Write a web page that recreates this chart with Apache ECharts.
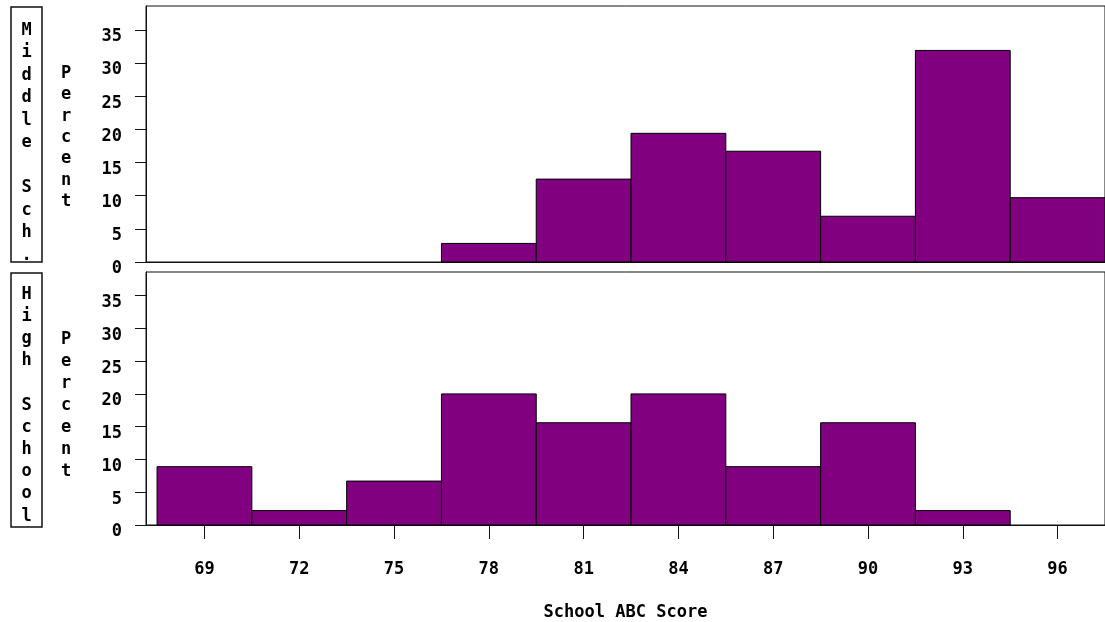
<!DOCTYPE html>
<html>
<head>
<meta charset="utf-8">
<script src="https://cdn.jsdelivr.net/npm/echarts@6/dist/echarts.min.js"></script>
<style>
  html, body { margin: 0; padding: 0; background: #fff; }
  #chart { width: 1105px; height: 622px; }
</style>
</head>
<body>
<div id="chart"></div>
<script>
// bin midpoints (School ABC Score) and percent per bin
const scoreMids = [69, 72, 75, 78, 81, 84, 87, 90, 93, 96];
const middleSchPct = [0, 0, 0, 2.8, 12.5, 19.4, 16.7, 6.9, 31.9, 9.7];
const highSchoolPct = [8.9, 2.2, 6.7, 20, 15.6, 20, 8.9, 15.6, 2.2, 0];
const yTicks = [0, 5, 10, 15, 20, 25, 30, 35];
const binWidth = 3;

const font = 'DejaVu Sans Mono';
const ink = '#111';

let myChart = echarts.init(document.getElementById('chart'));

function toPairs (vals) {
  return scoreMids.map((m, i) => [m, vals[i]]);
}

// draws each histogram bin as a rectangle through the axis scales
function renderBin (params, api) {
  const x = api.value(0);
  const y = api.value(1);
  if (!y) return null;
  const p0 = api.coord([x - binWidth / 2, y]);
  const p1 = api.coord([x + binWidth / 2, 0]);
  return {
    type: 'rect',
    shape: { x: p0[0], y: p0[1], width: p1[0] - p0[0], height: p1[1] - p0[1] },
    style: { fill: '#800080', stroke: '#000', lineWidth: 1 }
  };
}

const xCommon = {
  type: 'value',
  min: 67.15,
  max: 97.5,
  splitLine: { show: false },
  axisLine: { show: true, lineStyle: { color: ink, width: 1 } }
};

const yCommon = {
  type: 'value',
  min: 0,
  max: 38.6,
  splitLine: { show: false },
  axisLine: { show: true, lineStyle: { color: ink, width: 1 } },
  axisTick: { show: true, length: 11, customValues: yTicks, lineStyle: { color: ink } },
  axisLabel: {
    customValues: yTicks,
    margin: 24,
    // labels sit a little below their ticks
    verticalAlign: 'top',
    lineHeight: 14,
    color: '#000',
    fontFamily: font,
    fontWeight: 'bold',
    fontSize: 17
  }
};

function stack (word) {
  return word.split('').join('\n');
}

let option = {
  animation: false,
  grid: [
    { left: 146, top: 6, right: -1, height: 256, show: true, borderColor: ink, borderWidth: 1 },
    { left: 146, top: 272, right: -1, height: 255, show: true, borderColor: ink, borderWidth: 1 }
  ],
  xAxis: [
    Object.assign({}, xCommon, {
      gridIndex: 0,
      axisTick: { show: false },
      axisLabel: { show: false }
    }),
    Object.assign({}, xCommon, {
      gridIndex: 1,
      axisTick: { show: true, length: 14, customValues: scoreMids, lineStyle: { color: ink } },
      axisLabel: {
        customValues: scoreMids,
        margin: 36,
        color: '#000',
        fontFamily: font,
        fontWeight: 'bold',
        fontSize: 17
      },
      name: 'School ABC Score',
      nameLocation: 'middle',
      nameGap: 79,
      nameTextStyle: { color: '#000', fontFamily: font, fontWeight: 'bold', fontSize: 17 }
    })
  ],
  yAxis: [
    Object.assign({}, yCommon, { gridIndex: 0 }),
    Object.assign({}, yCommon, { gridIndex: 1 })
  ],
  graphic: [
    { type: 'rect', shape: { x: 11, y: 7, width: 31, height: 255 }, style: { fill: 'none', stroke: ink, lineWidth: 1.5 } },
    { type: 'rect', shape: { x: 11, y: 273, width: 31, height: 254 }, style: { fill: 'none', stroke: ink, lineWidth: 1.5 } },
    {
      type: 'text', x: 26.5, y: 19,
      style: { text: stack('Middle Sch.'), align: 'center', lineHeight: 22.5, fill: '#000', font: 'bold 17px ' + font }
    },
    {
      type: 'text', x: 26.5, y: 283,
      style: { text: stack('High School'), align: 'center', lineHeight: 22.2, fill: '#000', font: 'bold 17px ' + font }
    },
    {
      type: 'text', x: 66, y: 63,
      style: { text: stack('Percent'), align: 'center', lineHeight: 21.3, fill: '#000', font: 'bold 17px ' + font }
    },
    {
      type: 'text', x: 66, y: 329,
      style: { text: stack('Percent'), align: 'center', lineHeight: 21.9, fill: '#000', font: 'bold 17px ' + font }
    }
  ],
  series: [
    {
      name: 'Middle Sch.',
      type: 'custom',
      xAxisIndex: 0,
      yAxisIndex: 0,
      renderItem: renderBin,
      encode: { x: 0, y: 1 },
      data: toPairs(middleSchPct)
    },
    {
      name: 'High School',
      type: 'custom',
      xAxisIndex: 1,
      yAxisIndex: 1,
      renderItem: renderBin,
      encode: { x: 0, y: 1 },
      data: toPairs(highSchoolPct)
    }
  ]
};
myChart.setOption(option);
</script>
</body>
</html>
